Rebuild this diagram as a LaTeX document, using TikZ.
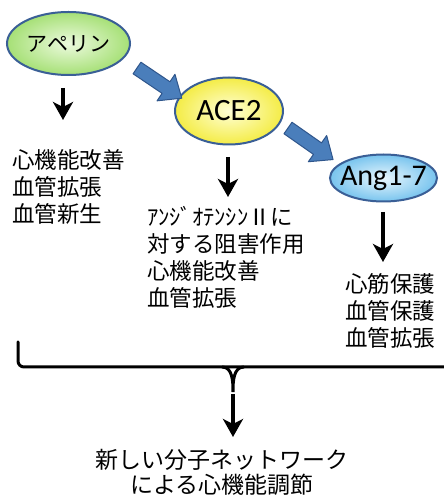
\documentclass[tikz,border=0pt]{standalone}
\usepackage{fontspec}
\newfontfamily\jp{Noto Sans CJK JP}
\newfontfamily\lat{Carlito}
\usetikzlibrary{shapes.geometric,arrows.meta,calc}
\definecolor{edgeblue}{HTML}{3A5F96}
\definecolor{arrfill}{HTML}{4A7EBB}
\definecolor{arrdraw}{HTML}{2F568C}
\tikzset{
  bubble/.style={draw=edgeblue, line width=2pt},
  bubbletext/.style={inner sep=0pt},
  downarrow/.style={line width=3.6pt, -{Stealth[width=20pt,length=18pt,inset=5pt]}},
  bodytext/.style={font=\jp\fontsize{22.5pt}{27pt}\selectfont, align=left, inner sep=0pt, anchor=west},
  blockarrow/.style={fill=arrfill, draw=arrdraw, line width=1pt, line join=round},
}
\begin{document}
\begin{tikzpicture}[x=1pt,y=1pt]
\useasboundingbox (0,0) rectangle (444,504);
\fill[white] (0,0) rectangle (444,504);

% bubbles
\coordinate (apc) at (68.5,460.5);
\coordinate (acec) at (229,393);
\coordinate (angc) at (383.5,326);
\draw[bubble, inner color={rgb,255:red,236;green,250;blue,222}, outer color={rgb,255:red,166;green,224;blue,118}] (apc) ellipse [x radius=61.5pt, y radius=31.5pt];
\draw[bubble, inner color={rgb,255:red,255;green,255;blue,214}, outer color={rgb,255:red,244;green,236;blue,70}] (acec) ellipse [x radius=54pt, y radius=33.5pt];
\draw[bubble, inner color={rgb,255:red,232;green,246;blue,253}, outer color={rgb,255:red,120;green,196;blue,238}] (angc) ellipse [x radius=53.5pt, y radius=23.5pt];
\node[bubbletext, font=\jp\fontsize{21pt}{24pt}\selectfont] (ap) at (apc) {アペリン};
\node[bubbletext, font=\lat\fontsize{31pt}{34pt}\selectfont] (ace) at (acec) {ACE2};
\node[bubbletext, font=\lat\fontsize{30pt}{33pt}\selectfont] (ang) at (angc) {Ang1-7};

% block arrows
\coordinate (b1) at (137,436);
\coordinate (b2) at (288,376);
\begin{scope}[shift={(b1)}, rotate=-34]
  \draw[blockarrow] (0,-7) -- (35,-7) -- (35,-16) -- (54,0) -- (35,16) -- (35,7) -- (0,7) -- cycle;
\end{scope}
\begin{scope}[shift={(b2)}, rotate=-35]
  \draw[blockarrow] (0,-7) -- (36,-7) -- (36,-16) -- (55,0) -- (36,16) -- (36,7) -- (0,7) -- cycle;
\end{scope}

% down arrows
\coordinate (a1s) at (63,416);
\coordinate (a1e) at (63,384);
\coordinate (a2s) at (228,347);
\coordinate (a2e) at (228,307);
\coordinate (a3s) at (383,292);
\coordinate (a3e) at (383,242);
\draw[downarrow] (a1s) -- (a1e);
\draw[downarrow] (a2s) -- (a2e);
\draw[downarrow] (a3s) -- (a3e);

% texts
\node[bodytext] (t1) at (12,317) {心機能改善\\血管拡張\\血管新生};
\node[bodytext] (t2) at (147,247) {ｱﾝｼﾞｵﾃﾝｼﾝⅡに\\対する阻害作用\\心機能改善\\血管拡張};
\node[bodytext] (t3) at (345,193) {心筋保護\\血管保護\\血管拡張};

% brace
\coordinate (bl) at (18,162);
\coordinate (br) at (446,137);
\coordinate (bm) at (233,112);
\draw[line width=3pt, line cap=round, rounded corners=6pt] (bl) -- (18,137) -- (br);
\draw[line width=3pt] (222,137) to[out=0,in=90] (bm) to[out=90,in=180] (244,137);
\coordinate (a4s) at (233,110);
\coordinate (a4e) at (233,67);
\draw[downarrow] (a4s) -- (a4e);

\node[font=\jp\fontsize{23pt}{25pt}\selectfont, align=center, inner sep=0pt] (t4) at (222,32) {新しい分子ネットワーク\\による心機能調節};
\end{tikzpicture}
\end{document}
